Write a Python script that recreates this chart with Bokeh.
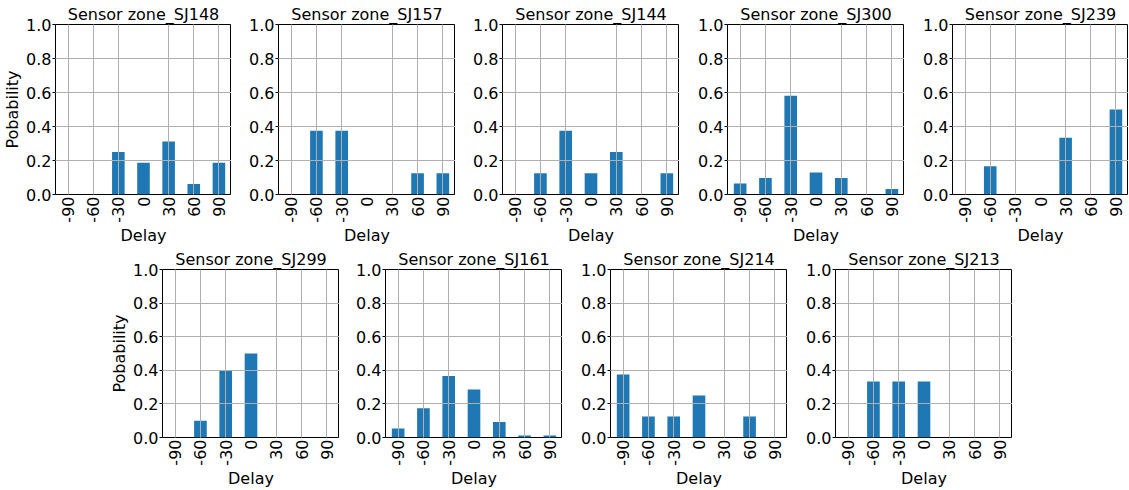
import math
from bokeh.plotting import figure
from bokeh.layouts import column, row
from bokeh.models import FactorRange, Range1d, FixedTicker, PrintfTickFormatter
from bokeh.embed import file_html
from bokeh.resources import INLINE

delays = ["-90", "-60", "-30", "0", "30", "60", "90"]
y_ticks = [0.0, 0.2, 0.4, 0.6, 0.8, 1.0]

sj148 = [0.0, 0.0, 0.25, 0.1875, 0.3125, 0.0625, 0.1875]
sj157 = [0.0, 0.375, 0.375, 0.0, 0.0, 0.125, 0.125]
sj144 = [0.0, 0.125, 0.375, 0.125, 0.25, 0.0, 0.125]
sj300 = [0.0645, 0.0968, 0.5806, 0.129, 0.0968, 0.0, 0.0323]
sj239 = [0.0, 0.1667, 0.0, 0.0, 0.3333, 0.0, 0.5]
sj299 = [0.0, 0.1, 0.4, 0.5, 0.0, 0.0, 0.0]
sj161 = [0.054, 0.174, 0.366, 0.285, 0.093, 0.012, 0.012]
sj214 = [0.375, 0.125, 0.125, 0.25, 0.0, 0.125, 0.0]
sj213 = [0.0, 0.3333, 0.3333, 0.3333, 0.0, 0.0, 0.0]

top_row = [("SJ148", sj148), ("SJ157", sj157), ("SJ144", sj144), ("SJ300", sj300), ("SJ239", sj239)]
bottom_row = [("SJ299", sj299), ("SJ161", sj161), ("SJ214", sj214), ("SJ213", sj213)]

FONT = "DejaVu Sans"
FS = "16px"
BAR = "#1f77b4"


def make(name, vals, width, height, left, top, bottom, ylabel):
    p = figure(x_range=FactorRange(*delays), y_range=Range1d(0, 1),
               width=width, height=height, output_backend="svg",
               toolbar_location=None, title="Sensor zone_" + name,
               min_border_left=left, min_border_right=0,
               min_border_top=top, min_border_bottom=bottom)
    p.vbar(x=delays, top=vals, width=0.5, fill_color=BAR, line_color=None)
    p.title.align = "center"
    p.title.text_font = FONT
    p.title.text_font_size = FS
    p.title.text_font_style = "normal"
    p.title.text_color = "black"
    p.title.standoff = 1
    p.title.offset = 0
    p.outline_line_color = "black"
    p.outline_line_width = 1
    p.outline_line_alpha = 1
    p.axis.axis_line_color = None
    p.axis.major_label_text_font = FONT
    p.axis.major_label_text_font_size = FS
    p.axis.major_label_text_color = "black"
    p.axis.axis_label_text_font = FONT
    p.axis.axis_label_text_font_size = FS
    p.axis.axis_label_text_font_style = "normal"
    p.axis.axis_label_text_color = "black"
    p.axis.minor_tick_line_color = None
    p.xaxis.major_tick_line_color = None
    p.xaxis.major_tick_out = 0
    p.xaxis.major_tick_in = 0
    p.xaxis.major_label_orientation = math.pi / 2
    p.xaxis.major_label_standoff = 2
    p.xaxis.axis_label = "Delay"
    p.xaxis.axis_label_standoff = 0
    p.yaxis.ticker = FixedTicker(ticks=y_ticks)
    p.yaxis.formatter = PrintfTickFormatter(format="%.1f")
    p.yaxis.major_tick_out = 3
    p.yaxis.major_tick_in = 0
    p.yaxis.major_tick_line_color = "black"
    p.yaxis.major_label_standoff = 1
    if ylabel:
        p.yaxis.axis_label = "Pobability"
        p.yaxis.axis_label_standoff = 1
    p.xgrid.grid_line_color = "#b0b0b0"
    p.ygrid.grid_line_color = "#b0b0b0"
    p.xgrid.level = "overlay"
    p.ygrid.level = "overlay"
    p.background_fill_color = "white"
    p.border_fill_color = "white"
    return p


tops = []
widths_top = [231, 224, 224, 225, 224]
lefts_top = [55, 47, 47, 48, 48]
for i, (name, vals) in enumerate(top_row):
    tops.append(make(name, vals, widths_top[i], 247, lefts_top[i], 24, 51, i == 0))

bots = []
widths_bot = [339, 223, 225, 225]
lefts_bot = [162, 46, 48, 48]
for i, (name, vals) in enumerate(bottom_row):
    bots.append(make(name, vals, widths_bot[i], 243, lefts_bot[i], 22, 51, i == 0))

layout = column(row(*tops), row(*bots))
open("out.html", "w").write(file_html(layout, INLINE))
